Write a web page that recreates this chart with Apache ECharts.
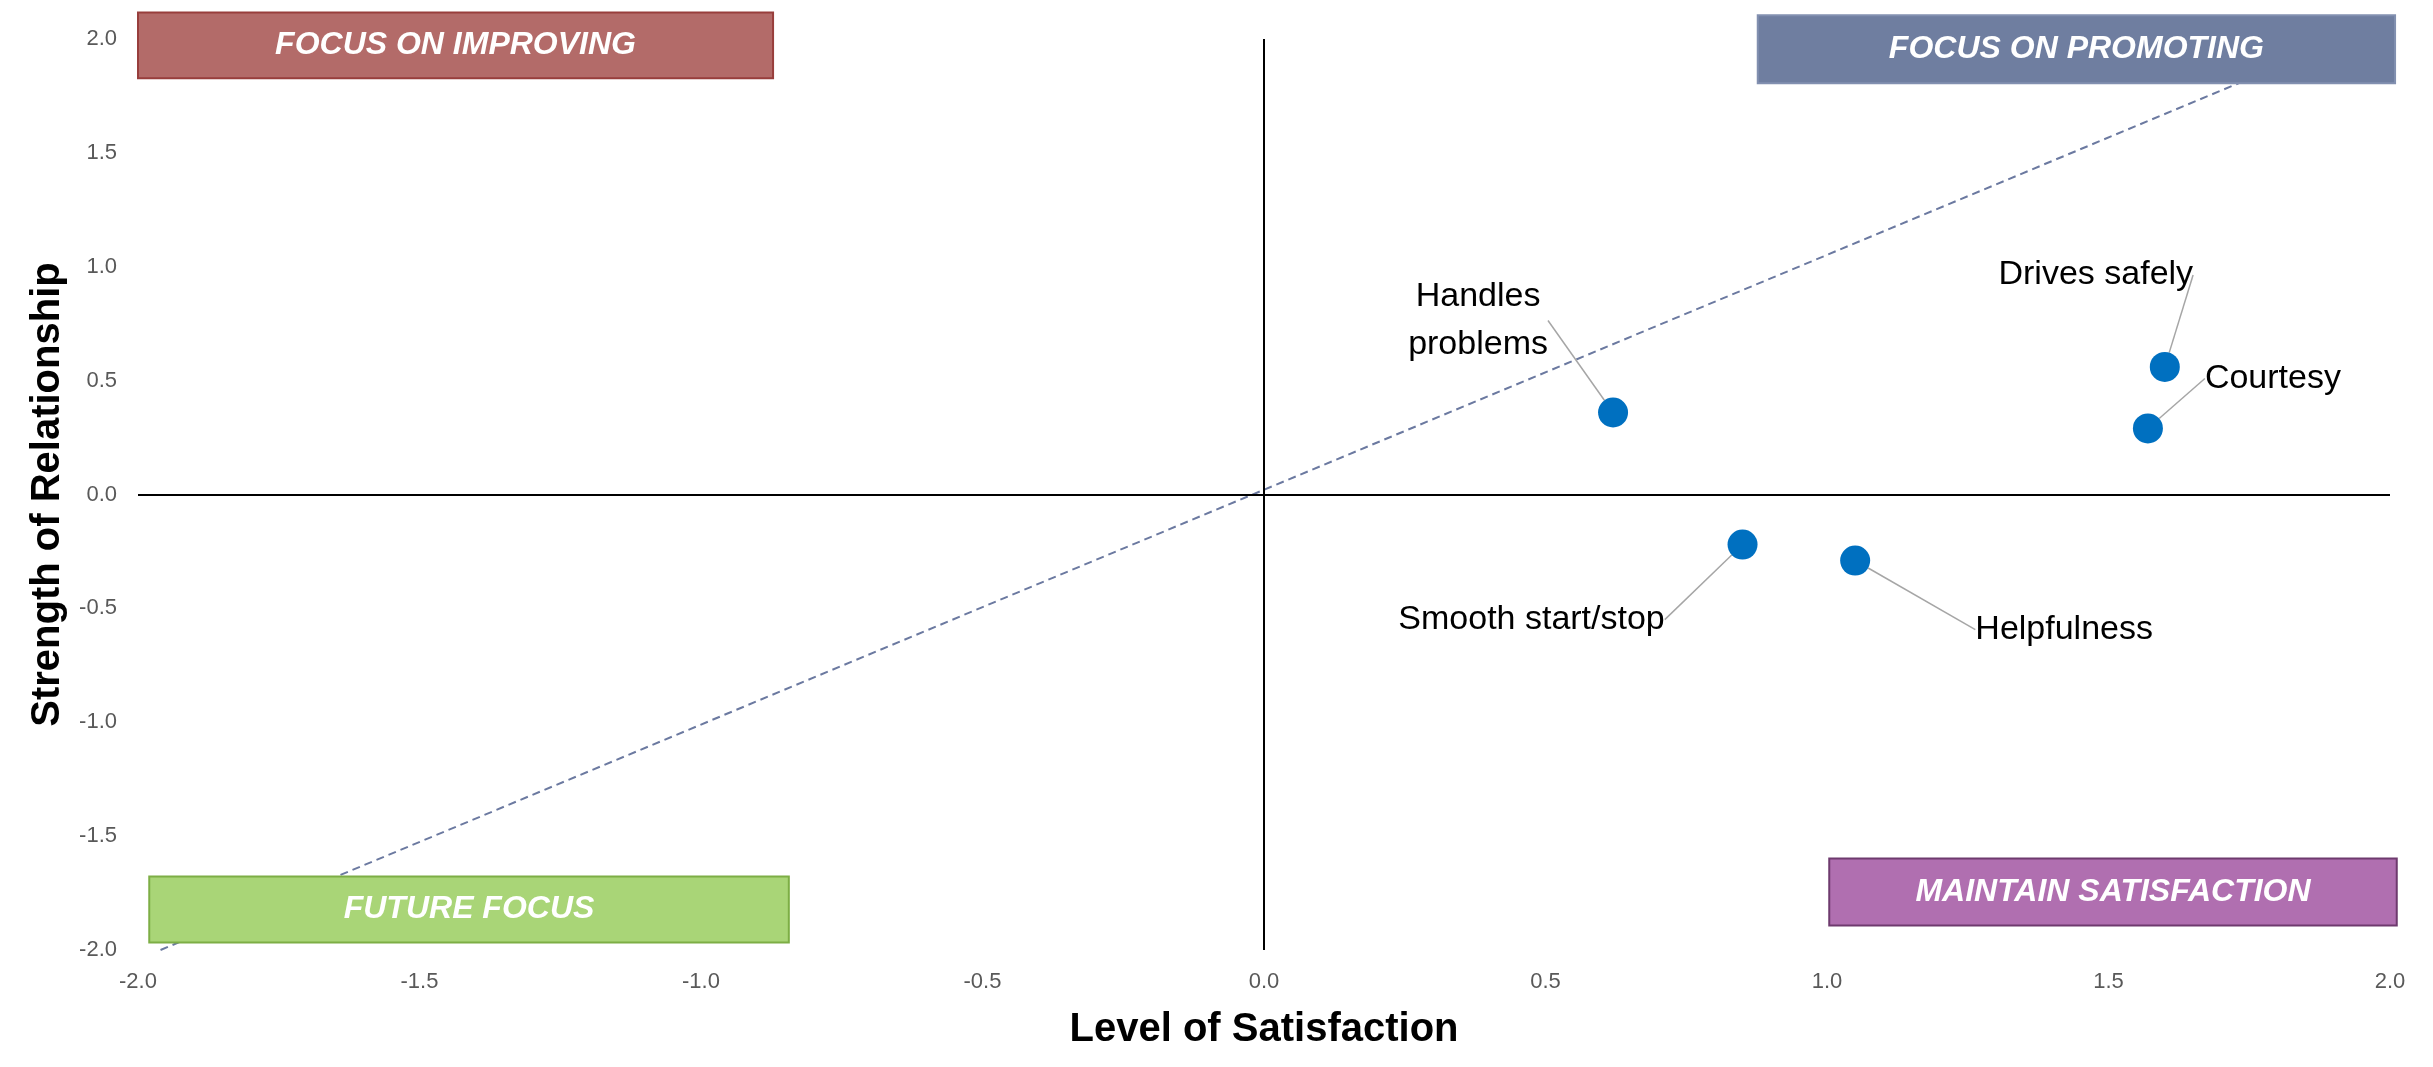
<!DOCTYPE html>
<html><head><meta charset="utf-8">
<script src="https://cdn.jsdelivr.net/npm/echarts/dist/echarts.min.js"></script>
<style>html,body{margin:0;padding:0;background:#fff}#c{width:2433px;height:1067px}</style>
</head><body><div id="c"></div>
<script>
// ---- data ----
const itemNames = ['Handles\nproblems', 'Drives safely', 'Courtesy', 'Smooth start/stop', 'Helpfulness'];
const satisfaction = [0.62, 1.60, 1.57, 0.85, 1.05];
const relationship = [0.36, 0.56, 0.29, -0.22, -0.29];
const trendX = [-1.96, 1.90];
const trendY = [-2.00, 1.98];
const axisMin = -2.0, axisMax = 2.0, axisStep = 0.5;
const quadrantNames = ['FOCUS ON IMPROVING', 'FOCUS ON PROMOTING', 'FUTURE FOCUS', 'MAINTAIN SATISFACTION'];

// ---- layout / style (not data) ----
const labelDx = [-135, -69, 125, -211, 209];
const labelDy = [-92, -92, -50, 75, 69];
const quadBoxes = [ // [x0, y0, x1, y1] in axis units
  [-2.000, 2.116, -0.872, 1.828],
  [0.877, 2.104, 2.009, 1.806],
  [-1.980, -1.677, -0.844, -1.967],
  [1.004, -1.598, 2.012, -1.892]
];
const quadFill = ['#B36B69', '#6F7EA0', '#A9D577', '#B06FB0'];
const quadStroke = ['#983E3C', '#8290B0', '#7DAE45', '#6E3A6E'];
const FONT = '"Liberation Sans", Arial, sans-serif';

const chart = echarts.init(document.getElementById('c'), null, {renderer: 'canvas'});
const pts = satisfaction.map((x, i) => ({name: itemNames[i], value: [x, relationship[i]]}));

const axisCommon = {
  type: 'value', min: axisMin, max: axisMax, interval: axisStep,
  axisLine: {show: false}, axisTick: {show: false}, splitLine: {show: false},
  nameTextStyle: {fontFamily: FONT, fontWeight: 'bold', fontSize: 40, color: '#000'}
};

chart.setOption({
  animation: false,
  grid: {left: 138, right: 43, top: 39, bottom: 117, containLabel: false},
  xAxis: Object.assign({}, axisCommon, {
    name: 'Level of Satisfaction', nameLocation: 'middle', nameGap: 60,
    axisLabel: {formatter: v => v.toFixed(1), color: '#595959', fontSize: 22, fontFamily: FONT, margin: 21}
  }),
  yAxis: Object.assign({}, axisCommon, {
    name: 'Strength of Relationship', nameLocation: 'middle', nameGap: 68, nameRotate: 90,
    axisLabel: {formatter: v => v.toFixed(1), color: '#595959', fontSize: 22, fontFamily: FONT, margin: 21}
  }),
  series: [
    {
      type: 'line', data: trendX.map((x, i) => [x, trendY[i]]), symbol: 'none', silent: true,
      lineStyle: {color: '#6B79A0', width: 2, type: [8, 5]}, z: 1
    },
    {
      type: 'scatter', data: pts, symbolSize: 30, z: 3,
      itemStyle: {color: '#0070C0', opacity: 1},
      label: {
        show: true, position: 'inside', formatter: p => p.name, color: '#000',
        fontSize: 34, fontFamily: FONT, lineHeight: 48, align: 'center'
      },
      labelLine: {show: true, lineStyle: {color: '#A6A6A6', width: 1.5}},
      labelLayout: p => ({dx: labelDx[p.dataIndex], dy: labelDy[p.dataIndex]}),
      markLine: {
        silent: true, symbol: 'none', label: {show: false},
        lineStyle: {color: '#000', width: 2, type: 'solid'},
        data: [{xAxis: 0}, {yAxis: 0}]
      }
    }
  ]
});

const graphics = [];
quadBoxes.forEach((b, i) => {
  const p0 = chart.convertToPixel({gridIndex: 0}, [b[0], b[1]]);
  const p1 = chart.convertToPixel({gridIndex: 0}, [b[2], b[3]]);
  graphics.push({
    type: 'rect', z: 100,
    shape: {x: p0[0], y: p0[1], width: p1[0] - p0[0], height: p1[1] - p0[1]},
    style: {fill: quadFill[i], stroke: quadStroke[i], lineWidth: 2}
  });
  graphics.push({
    type: 'text', z: 101,
    x: (p0[0] + p1[0]) / 2, y: (p0[1] + p1[1]) / 2,
    style: {
      text: quadrantNames[i], fill: '#fff', font: 'italic bold 32px ' + FONT,
      textAlign: 'center', textVerticalAlign: 'middle'
    }
  });
});
chart.setOption({graphic: graphics});
</script>
</body></html>
